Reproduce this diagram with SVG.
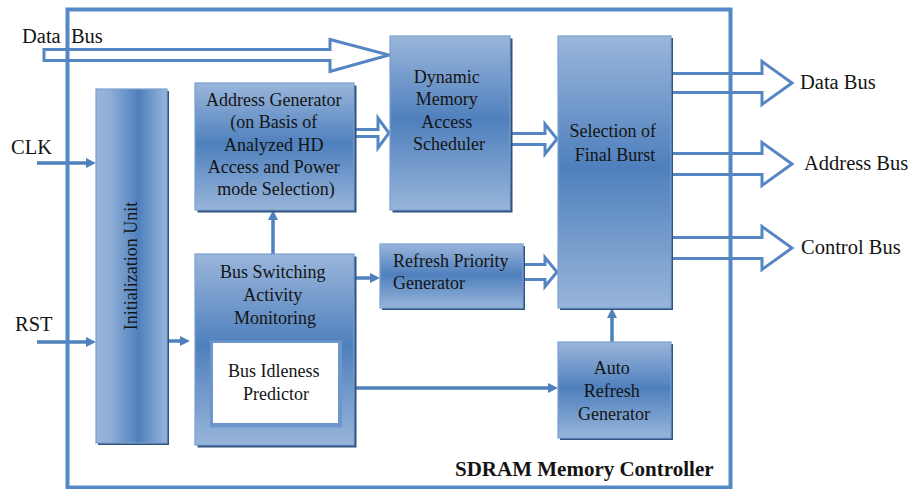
<svg xmlns="http://www.w3.org/2000/svg" width="909" height="489" viewBox="0 0 909 489">
  <style>
    .box { stroke: #7aa0d0; stroke-width: 1.2; }
    .shadow { fill: #2f527f; }
    .txt { font-family: "Liberation Serif", "DejaVu Serif", serif; font-size: 18px; fill: #141414; }
    .lbl { font-family: "Liberation Serif", "DejaVu Serif", serif; font-size: 20.5px; fill: #141414; white-space: pre; }
    .title { font-family: "Liberation Serif", "DejaVu Serif", serif; font-size: 21px; font-weight: bold; fill: #141414; }
    .wire { stroke: #4f81bd; stroke-width: 3.5; fill: none; marker-end: url(#head); }
    .bus { stroke: #5585c2; stroke-width: 3; fill: #ffffff; stroke-linejoin: miter; }
    .frame { stroke: #5588c6; stroke-width: 4; fill: none; }
  </style>
  <defs>
    <linearGradient id="gv" x1="0" y1="0" x2="0" y2="1">
      <stop offset="0" stop-color="#9ab6db"/>
      <stop offset="0.48" stop-color="#4f80bd"/>
      <stop offset="1" stop-color="#98b5da"/>
    </linearGradient>
    <linearGradient id="gh" x1="0" y1="0" x2="1" y2="0">
      <stop offset="0" stop-color="#98b5da"/>
      <stop offset="0.2" stop-color="#8eaed7"/>
      <stop offset="0.6" stop-color="#4f80bd"/>
      <stop offset="1" stop-color="#98b5da"/>
    </linearGradient>
    <marker id="head" markerUnits="userSpaceOnUse" markerWidth="10" markerHeight="10" refX="0" refY="5" orient="auto">
      <path d="M0,0 L10,5 L0,10 Z" fill="#4f81bd"/>
    </marker>
  </defs>

  <rect width="909" height="489" fill="#ffffff"/>

  <!-- connectors: bus arrows and signal wires -->
  <g id="connectors">
    <path class="bus" d="M44,49.5 H330 V39.5 L389,55 L330,71.5 V60.5 H44 Z"/>
    <path class="bus" d="M352,129.5 H378 V118 L389,133 L378,148 V136.5 H352 Z"/>
    <path class="bus" d="M508,133.5 H545 V124 L557,139 L545,154 V144.5 H508 Z"/>
    <path class="bus" d="M521,264.5 H545 V257.5 L557,272 L545,286.5 V279.5 H521 Z"/>
    <path class="bus" d="M669,73.5 H762 V61.5 L792,83 L762,104.5 V92.5 H669 Z"/>
    <path class="bus" d="M669,153.5 H762 V142.5 L792,164 L762,185.5 V174.5 H669 Z"/>
    <path class="bus" d="M669,237.5 H762 V226.5 L792,248 L762,269.5 V258.5 H669 Z"/>

    <line class="wire" x1="37" y1="163" x2="86" y2="163"/>
    <line class="wire" x1="37" y1="342" x2="86" y2="342"/>
    <line class="wire" x1="167" y1="341" x2="180" y2="341"/>
    <line class="wire" x1="273" y1="254" x2="273" y2="220"/>
    <line class="wire" x1="356" y1="278" x2="370" y2="278"/>
    <line class="wire" x1="356" y1="388" x2="548" y2="388"/>
    <line class="wire" x1="612" y1="342" x2="612" y2="318"/>
  </g>

  <!-- controller boundary -->
  <g id="controller">
    <rect class="frame" x="67.5" y="9.5" width="663" height="478"/>
    <text class="title" x="455" y="476">SDRAM Memory Controller</text>
  </g>

  <!-- external signal labels -->
  <g id="labels">
    <text class="lbl" x="22" y="43">Data  Bus</text>
    <text class="lbl" x="11" y="154">CLK</text>
    <text class="lbl" x="15" y="331">RST</text>
    <text class="lbl" x="800" y="89">Data Bus</text>
    <text class="lbl" x="804" y="170">Address Bus</text>
    <text class="lbl" x="801" y="254">Control Bus</text>
  </g>

  <g id="init-unit">
    <rect class="shadow" x="98" y="91" width="71" height="354"/>
    <rect class="box" x="96" y="89" width="71" height="354" fill="url(#gh)"/>
    <text class="txt" transform="translate(137,266) rotate(-90)" text-anchor="middle">Initialization Unit</text>
  </g>

  <g id="address-generator">
    <rect class="shadow" x="197.5" y="85.5" width="159" height="127"/>
    <rect class="box" x="195" y="83" width="159" height="127" fill="url(#gv)"/>
    <text class="txt" text-anchor="middle">
      <tspan x="276" y="106">Address Generator</tspan>
      <tspan x="276" y="128.3">(on Basis of</tspan>
      <tspan x="276" y="150.6">Analyzed HD</tspan>
      <tspan x="276" y="172.9">Access and Power</tspan>
      <tspan x="276" y="195.2">mode Selection)</tspan>
    </text>
  </g>

  <g id="scheduler">
    <rect class="shadow" x="392.5" y="38.5" width="120" height="174"/>
    <rect class="box" x="390" y="36" width="120" height="174" fill="url(#gv)"/>
    <text class="txt" text-anchor="middle">
      <tspan x="449" y="82.5">Dynamic</tspan>
      <tspan x="449" y="105">Memory</tspan>
      <tspan x="449" y="127.5">Access</tspan>
      <tspan x="449" y="150">Scheduler</tspan>
    </text>
  </g>

  <g id="final-burst">
    <rect class="shadow" x="560" y="38" width="113" height="272"/>
    <rect class="box" x="558" y="36" width="113" height="272" fill="url(#gv)"/>
    <text class="txt" text-anchor="middle">
      <tspan x="615" y="137">Selection of</tspan>
      <tspan x="615" y="160.5">Final Burst</tspan>
    </text>
  </g>

  <g id="bus-monitor">
    <rect class="shadow" x="197.5" y="256.5" width="159" height="191"/>
    <rect class="box" x="195" y="254" width="159" height="191" fill="url(#gv)"/>
    <text class="txt" text-anchor="middle">
      <tspan x="275" y="278">Bus Switching</tspan>
      <tspan x="275" y="301">Activity</tspan>
      <tspan x="275" y="324">Monitoring</tspan>
    </text>
  </g>

  <g id="idleness-predictor">
    <rect x="210" y="340.5" width="132" height="87" fill="#6d97cc"/>
    <rect x="213" y="343" width="125" height="80" fill="#ffffff"/>
    <text class="txt" text-anchor="middle">
      <tspan x="276" y="377">Bus Idleness</tspan>
      <tspan x="276" y="400">Predictor</tspan>
    </text>
  </g>

  <g id="refresh-priority">
    <rect class="shadow" x="382" y="246" width="143" height="64"/>
    <rect class="box" x="380" y="244" width="143" height="64" fill="url(#gv)"/>
    <text class="txt">
      <tspan x="393" y="267">Refresh Priority</tspan>
      <tspan x="393" y="289">Generator</tspan>
    </text>
  </g>

  <g id="auto-refresh">
    <rect class="shadow" x="560" y="344" width="113" height="96"/>
    <rect class="box" x="558" y="342" width="113" height="96" fill="url(#gv)"/>
    <text class="txt" text-anchor="middle">
      <tspan x="614" y="374">Auto</tspan>
      <tspan x="614" y="397">Refresh</tspan>
      <tspan x="614" y="420">Generator</tspan>
    </text>
  </g>
</svg>
